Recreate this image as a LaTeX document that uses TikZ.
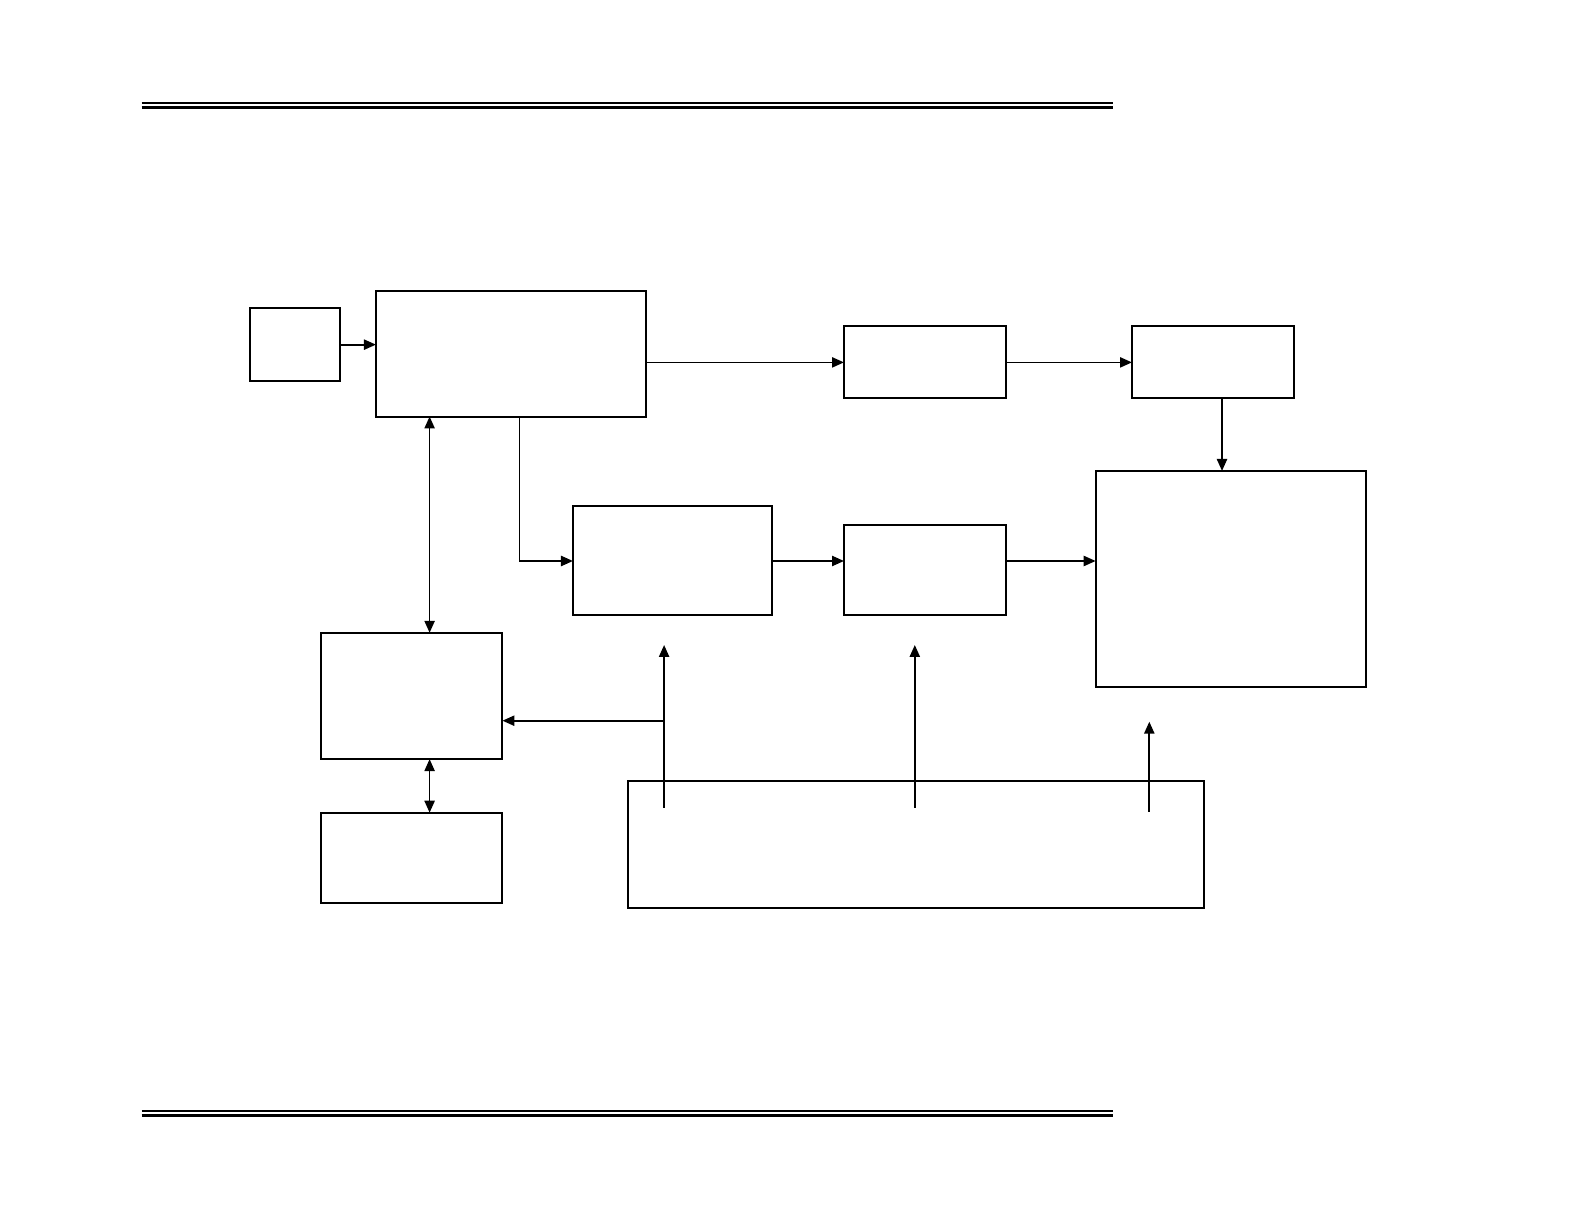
\documentclass[tikz,border=0pt]{standalone}
\usetikzlibrary{arrows.meta}
\begin{document}
\begin{tikzpicture}[x=0.01cm,y=-0.01cm,
  blk/.style={draw=black,line width=0.58pt,rectangle,inner sep=0pt,outer sep=0pt,fill=white},
  arr/.style={line width=0.5pt,-{Triangle[length=3.4pt,width=2.9pt]}},
  darr/.style={line width=0.5pt,{Triangle[length=3.4pt,width=2.9pt]}-{Triangle[length=3.4pt,width=2.9pt]}},
  rulethin/.style={line width=0.4pt},
  rulethick/.style={line width=0.65pt}]
\useasboundingbox[fill=white] (0,0) rectangle (1585,1225);
% header / footer rules
\draw[rulethin] (141.5,103) -- (1113,103);
\draw[rulethick] (141.5,107.5) -- (1113,107.5);
\draw[rulethin] (141.5,1111) -- (1113,1111);
\draw[rulethick] (141.5,1115.5) -- (1113,1115.5);
% boxes
\node[blk,minimum width=0.899cm,minimum height=0.727cm] (A) at (294.65,344.65) {};
\node[blk,minimum width=2.70cm,minimum height=1.255cm] (B) at (511,353.75) {};
\node[blk,minimum width=1.618cm,minimum height=0.718cm] (C) at (924.9,362.4) {};
\node[blk,minimum width=1.618cm,minimum height=0.718cm] (D) at (1212.9,362.4) {};
\node[blk,minimum width=2.699cm,minimum height=2.163cm] (E) at (1230.65,579.15) {};
\node[blk,minimum width=1.993cm,minimum height=1.082cm] (F) at (672.65,560.5) {};
\node[blk,minimum width=1.618cm,minimum height=0.90cm] (G) at (924.9,569.6) {};
\node[blk,minimum width=1.81cm,minimum height=1.263cm] (H) at (411.9,695.95) {};
\node[blk,minimum width=1.81cm,minimum height=0.899cm] (I) at (411.9,857.65) {};
\node[blk,minimum width=5.762cm,minimum height=1.264cm] (J) at (915.8,844.5) {};
% helper coordinates
\coordinate (dx) at (1222,0);
\coordinate (bx) at (429.6,0);
\coordinate (dropx) at (519.6,0);
\coordinate (row) at (0,561);
\coordinate (j1s) at (664.1,807.6);
\coordinate (j1e) at (664.1,645);
\coordinate (j1b) at (664.1,720.7);
\coordinate (j2s) at (914.8,807.6);
\coordinate (j2e) at (914.8,645);
\coordinate (j3s) at (1149.3,811.7);
\coordinate (j3e) at (1149.3,721.7);
% connectors
\draw[arr] (A.east) -- (B.west |- A.east);
\draw[arr] (B.east |- C.west) -- (C.west);
\draw[arr] (C.east) -- (D.west);
\draw[arr] (D.south -| dx) -- (E.north -| dx);
\draw[darr] (B.south -| bx) -- (H.north -| bx);
\draw[darr] (H.south -| bx) -- (I.north -| bx);
\draw[arr] (B.south -| dropx) |- (F.west |- row);
\draw[arr] (F.east |- row) -- (G.west |- row);
\draw[arr] (G.east |- row) -- (E.west |- row);
\draw[arr] (j1s) -- (j1e);
\draw[arr] (j1b) -- (H.east |- j1b);
\draw[arr] (j2s) -- (j2e);
\draw[arr] (j3s) -- (j3e);
\end{tikzpicture}
\end{document}
